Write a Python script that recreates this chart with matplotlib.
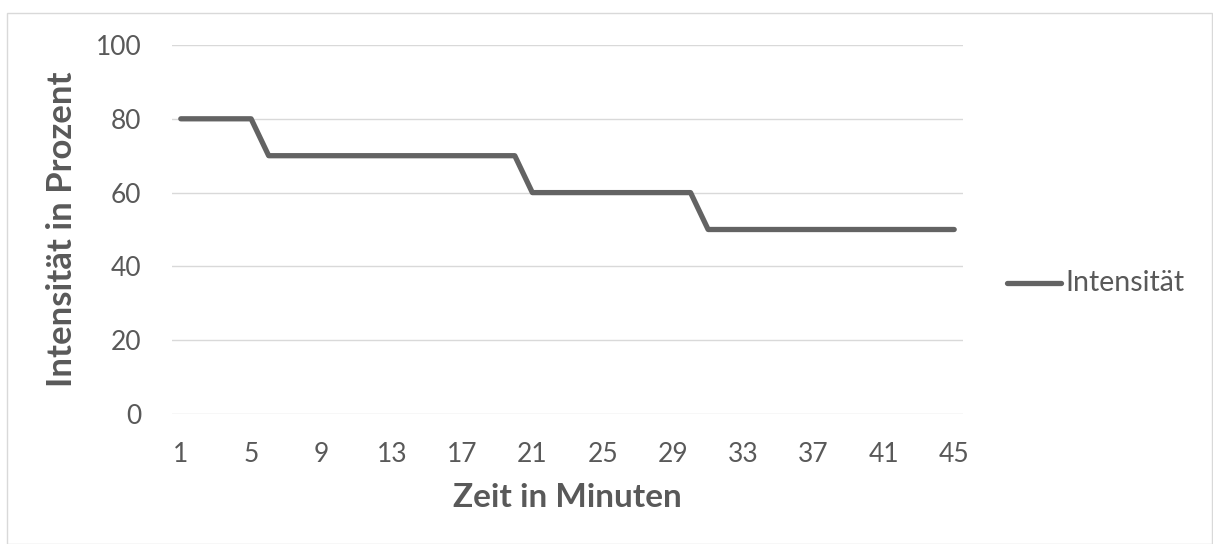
import matplotlib.pyplot as plt
from matplotlib.lines import Line2D
from matplotlib.patches import Rectangle

plt.rcParams['font.family'] = ['Lato', 'DejaVu Sans']

# Minuten 1..45 und Intensität in Prozent
minuten = list(range(1, 46))
intensitaet = [80] * 5 + [70] * 15 + [60] * 10 + [50] * 15
x_ticks = list(range(1, 46, 4))
y_ticks = [0, 20, 40, 60, 80, 100]

W, H = 1213, 544
fig = plt.figure(figsize=(W / 100, H / 100), dpi=100)
ax = fig.add_axes([172 / W, 1 - 414 / H, (963 - 172) / W, (414 - 45) / H])

grey_text = '#595959'
grid_col = '#d9d9d9'
line_col = '#636363'

ax.plot(minuten, intensitaet, color=line_col, lw=3.8, solid_capstyle='round',
        solid_joinstyle='round', zorder=3)

ax.set_xlim(0.5, 45.5)
ax.set_ylim(0, 100)
ax.set_xticks(x_ticks)
ax.set_yticks(y_ticks)
ax.tick_params(length=0, labelsize=19, colors=grey_text, pad=20)
ax.tick_params(axis='y', pad=22)
ax.grid(axis='y', color=grid_col, lw=1)
ax.set_axisbelow(True)
for s in ax.spines.values():
    s.set_visible(False)

ax.set_xlabel('Zeit in Minuten', fontsize=24, fontweight='bold', color=grey_text, labelpad=12)
ax.set_ylabel('Intensität in Prozent', fontsize=25, fontweight='bold', color=grey_text, labelpad=13)

# Legende rechts neben dem Diagramm
fig.add_artist(Line2D([1007 / W, 1061 / W], [1 - 283 / H] * 2, color=line_col, lw=3.8,
                      solid_capstyle='round', transform=fig.transFigure))
fig.text(1065 / W, 1 - 283 / H, 'Intensität', fontsize=20.5, color=grey_text,
         va='center', ha='left')

# Rahmen um die Grafik
fig.add_artist(Rectangle((6.5 / W, 0), (W - 8) / W, 1 - 12.5 / H, fill=False,
                         edgecolor='#d9d9d9', lw=1, transform=fig.transFigure))

fig.savefig('out.png', dpi=100)
